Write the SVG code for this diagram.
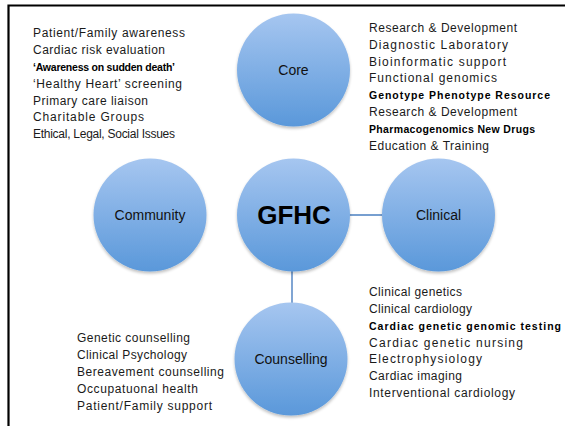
<svg xmlns="http://www.w3.org/2000/svg" width="565" height="426" viewBox="0 0 565 426">
  <defs>
    <linearGradient id="ball" x1="0" y1="0" x2="0" y2="1">
      <stop offset="0" stop-color="#a6c6f0"/>
      <stop offset="1" stop-color="#5a98da"/>
    </linearGradient>
    <filter id="soft" x="-20%" y="-20%" width="140%" height="140%">
      <feGaussianBlur in="SourceAlpha" stdDeviation="1.5"/>
      <feOffset dy="1.5" result="b"/>
      <feComponentTransfer><feFuncA type="linear" slope="0.25"/></feComponentTransfer>
      <feMerge><feMergeNode/><feMergeNode in="SourceGraphic"/></feMerge>
    </filter>
    <style>
      .ball { fill: url(#ball); filter: url(#soft); }
      .label { font-family: "Liberation Sans", Arial, sans-serif; font-size: 14px; fill: #111; text-anchor: middle; }
      .hub { font-family: "Liberation Sans", Arial, sans-serif; font-size: 26px; font-weight: bold; fill: #000; text-anchor: middle; }
      .list { font-family: "Liberation Sans", Arial, sans-serif; font-size: 12px; fill: #1a1a1a; }
      .dense { font-weight: bold; font-size: 10.5px; fill: #000; }
      .link { stroke: #4a7fc0; stroke-width: 1.4; fill: none; }
      .frame { stroke: #000; stroke-width: 2.2; fill: none; }
    </style>
  </defs>

  <rect width="565" height="426" fill="#fff"/>
  <path class="frame" d="M8.5,426 V5.5 H565"/>

  <!-- connectors -->
  <g id="connectors">
    <line class="link" x1="349" y1="215" x2="382" y2="215"/>
    <line class="link" x1="292" y1="271" x2="292" y2="303"/>
  </g>

  <!-- nodes -->
  <g id="core">
    <circle class="ball" cx="293.5" cy="70" r="56.5"/>
    <text class="label" x="293.5" y="75">Core</text>
  </g>
  <g id="community">
    <circle class="ball" cx="150" cy="215" r="56.5"/>
    <text class="label" x="150" y="220">Community</text>
  </g>
  <g id="gfhc">
    <circle class="ball" cx="293.5" cy="215" r="56.5"/>
    <text class="hub" x="294" y="224">GFHC</text>
  </g>
  <g id="clinical">
    <circle class="ball" cx="438.5" cy="215" r="56.5"/>
    <text class="label" x="438.5" y="220">Clinical</text>
  </g>
  <g id="counselling">
    <circle class="ball" cx="291" cy="359" r="56.5"/>
    <text class="label" x="291" y="364">Counselling</text>
  </g>

  <!-- activity lists -->
  <g id="community-list" class="list">
    <text x="33" y="37" textLength="152" lengthAdjust="spacing">Patient/Family awareness</text>
    <text x="33" y="54" textLength="132" lengthAdjust="spacing">Cardiac risk evaluation</text>
    <text class="dense" x="33" y="70.5" textLength="142" lengthAdjust="spacing">‘Awareness on sudden death’</text>
    <text x="33" y="87.5" textLength="149" lengthAdjust="spacing">‘Healthy Heart’ screening</text>
    <text x="33" y="104.5" textLength="115" lengthAdjust="spacing">Primary care liaison</text>
    <text x="33" y="121" textLength="111" lengthAdjust="spacing">Charitable Groups</text>
    <text x="33" y="138" textLength="142" lengthAdjust="spacing">Ethical, Legal, Social Issues</text>
  </g>

  <g id="core-list" class="list">
    <text x="369" y="32" textLength="148" lengthAdjust="spacing">Research &amp; Development</text>
    <text x="369" y="49" textLength="139" lengthAdjust="spacing">Diagnostic Laboratory</text>
    <text x="369" y="65.5" textLength="137" lengthAdjust="spacing">Bioinformatic support</text>
    <text x="369" y="82" textLength="128" lengthAdjust="spacing">Functional genomics</text>
    <text class="dense" x="369" y="99" textLength="181" lengthAdjust="spacing">Genotype Phenotype Resource</text>
    <text x="369" y="116" textLength="148" lengthAdjust="spacing">Research &amp; Development</text>
    <text class="dense" x="369" y="132.5" textLength="166" lengthAdjust="spacing">Pharmacogenomics New Drugs</text>
    <text x="369" y="149.5" textLength="120" lengthAdjust="spacing">Education &amp; Training</text>
  </g>

  <g id="clinical-list" class="list">
    <text x="369" y="296" textLength="93" lengthAdjust="spacing">Clinical genetics</text>
    <text x="369" y="313" textLength="103" lengthAdjust="spacing">Clinical cardiology</text>
    <text class="dense" x="369" y="329.5" textLength="192" lengthAdjust="spacing">Cardiac genetic genomic testing</text>
    <text x="369" y="346.5" textLength="154" lengthAdjust="spacing">Cardiac genetic nursing</text>
    <text x="369" y="363" textLength="113" lengthAdjust="spacing">Electrophysiology</text>
    <text x="369" y="380" textLength="93" lengthAdjust="spacing">Cardiac imaging</text>
    <text x="369" y="397" textLength="146" lengthAdjust="spacing">Interventional cardiology</text>
  </g>

  <g id="counselling-list" class="list">
    <text x="77" y="342" textLength="113" lengthAdjust="spacing">Genetic counselling</text>
    <text x="77" y="359" textLength="110" lengthAdjust="spacing">Clinical Psychology</text>
    <text x="77" y="376" textLength="147" lengthAdjust="spacing">Bereavement counselling</text>
    <text x="77" y="393" textLength="121" lengthAdjust="spacing">Occupatuonal health</text>
    <text x="77" y="410" textLength="135" lengthAdjust="spacing">Patient/Family support</text>
  </g>
</svg>
